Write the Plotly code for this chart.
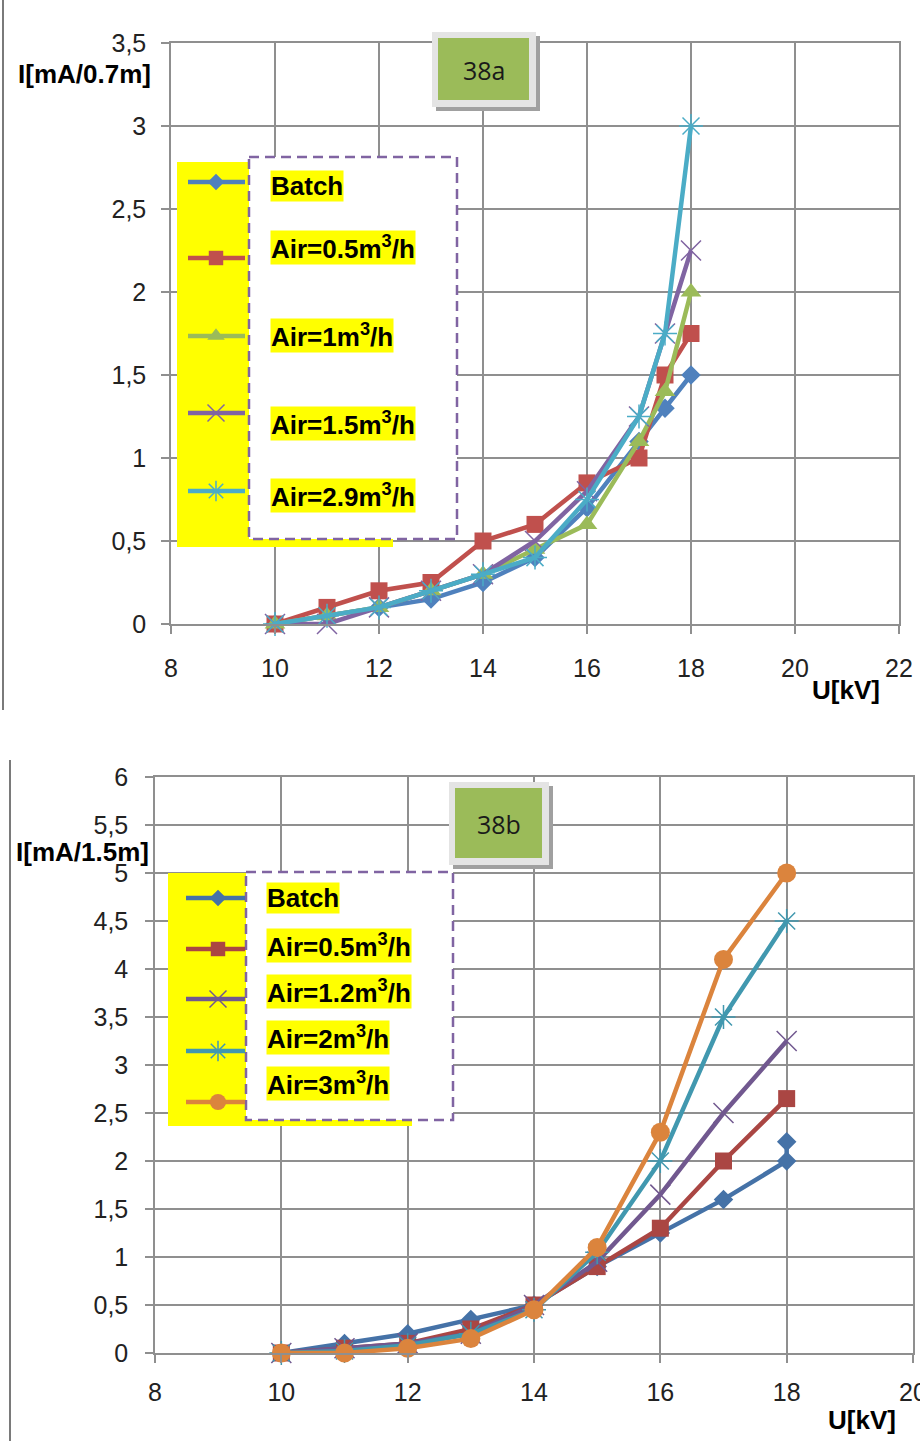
import plotly.graph_objects as go

W, H = 920, 1441

# ---------------- data: figure 38a ----------------
u_a = [10, 11, 12, 13, 14, 15, 16, 17, 17.5, 18]
batch_a = [0, 0.05, 0.1, 0.15, 0.25, 0.4, 0.7, 1.1, 1.3, 1.5]
air05_a = [0, 0.1, 0.2, 0.25, 0.5, 0.6, 0.85, 1.0, 1.5, 1.75]
air1_a = [0, 0.05, 0.1, 0.2, 0.3, 0.45, 0.6, 1.1, 1.4, 2.0]
air15_a = [0, 0, 0.1, 0.2, 0.3, 0.5, 0.8, 1.25, 1.75, 2.25]
air29_a = [0, 0.05, 0.1, 0.2, 0.3, 0.4, 0.75, 1.25, 1.75, 3.0]
names_a = ["Batch", "Air=0.5m<sup>3</sup>/h", "Air=1m<sup>3</sup>/h",
           "Air=1.5m<sup>3</sup>/h", "Air=2.9m<sup>3</sup>/h"]

# ---------------- data: figure 38b ----------------
u_b = [10, 11, 12, 13, 14, 15, 16, 17, 18]
u_b_batch = [10, 11, 12, 13, 14, 15, 16, 17, 18, 18]
batch_b = [0, 0.1, 0.2, 0.35, 0.5, 0.9, 1.25, 1.6, 2.0, 2.2]
air05_b = [0, 0.05, 0.1, 0.25, 0.5, 0.9, 1.3, 2.0, 2.65]
air12_b = [0, 0.05, 0.1, 0.2, 0.5, 0.95, 1.65, 2.5, 3.25]
air2_b = [0, 0.02, 0.08, 0.2, 0.45, 1.05, 2.0, 3.5, 4.5]
air3_b = [0, 0, 0.05, 0.15, 0.45, 1.1, 2.3, 4.1, 5.0]
names_b = ["Batch", "Air=0.5m<sup>3</sup>/h", "Air=1.2m<sup>3</sup>/h",
           "Air=2m<sup>3</sup>/h", "Air=3m<sup>3</sup>/h"]

x_ticks_a = [8, 10, 12, 14, 16, 18, 20, 22]
y_ticks_a = [0, 0.5, 1, 1.5, 2, 2.5, 3, 3.5]
y_text_a = ["0", "0,5", "1", "1,5", "2", "2,5", "3", "3,5"]
x_ticks_b = [8, 10, 12, 14, 16, 18, 20]
y_ticks_b = [0, 0.5, 1, 1.5, 2, 2.5, 3, 3.5, 4, 4.5, 5, 5.5, 6]
y_text_b = ["0", "0,5", "1", "1,5", "2", "2,5", "3", "3,5", "4", "4,5", "5", "5,5", "6"]

# ---------------- styles ----------------
FONT = "Liberation Sans, Arial, sans-serif"
GRID = "#8f8f8f"
TICKC = "#222222"
YEL = "#FFFF00"
DASHC = "#8064A2"

style_a = [
    dict(color="#4F81BD", symbol="diamond", size=15, open=False),
    dict(color="#C0504D", symbol="square", size=17, open=False),
    dict(color="#9BBB59", symbol="triangle-up", size=18, open=False),
    dict(color="#8064A2", symbol="x-thin-open", size=20, open=True),
    dict(color="#4BACC6", symbol="asterisk-open", size=20, open=True),
]
style_b = [
    dict(color="#4572A7", symbol="diamond", size=15, open=False),
    dict(color="#AA4643", symbol="square", size=17, open=False),
    dict(color="#71588F", symbol="x-thin-open", size=20, open=True),
    dict(color="#4198AF", symbol="asterisk-open", size=20, open=True),
    dict(color="#DB843D", symbol="circle", size=19, open=False),
]


def px(x):
    return x / W


def py(y):
    return 1 - y / H


def marker_of(s, opacity=1, scale=1.0):
    m = dict(symbol=s["symbol"], size=s["size"] * scale, color=s["color"], opacity=opacity)
    if s["open"]:
        m["line"] = dict(width=1.5, color=s["color"])
    else:
        m["line"] = dict(width=0)
    return m


fig = go.Figure()

# main series, figure 38a
for xs, ys, nm, s in zip([u_a] * 5, [batch_a, air05_a, air1_a, air15_a, air29_a], names_a, style_a):
    fig.add_trace(go.Scatter(x=xs, y=ys, name=nm, mode="lines+markers",
                             line=dict(color=s["color"], width=4.5),
                             marker=marker_of(s), xaxis="x", yaxis="y",
                             showlegend=False, cliponaxis=False))

# main series, figure 38b
for xs, ys, nm, s in zip([u_b_batch, u_b, u_b, u_b, u_b],
                         [batch_b, air05_b, air12_b, air2_b, air3_b], names_b, style_b):
    fig.add_trace(go.Scatter(x=xs, y=ys, name=nm, mode="lines+markers",
                             line=dict(color=s["color"], width=4.5),
                             marker=marker_of(s), xaxis="x2", yaxis="y2",
                             showlegend=False, cliponaxis=False))


# ---------------- custom legends on a pixel overlay axis ----------------
def rect_trace(x0, y0, x1, y1, fill, line=None, dash=None):
    return go.Scatter(x=[x0, x1, x1, x0, x0], y=[y0, y0, y1, y1, y0],
                      mode="lines", fill="toself" if fill else None,
                      fillcolor=fill,
                      line=dict(color=line if line else "rgba(0,0,0,0)",
                                width=2.5 if line else 0, dash=dash),
                      xaxis="x3", yaxis="y3", hoverinfo="skip", showlegend=False)


def legend(yel_col, yel_strip, box, sample_x, sample_ys, text_x, text_ys, names, styles):
    fig.add_trace(rect_trace(*yel_col, YEL))
    fig.add_trace(rect_trace(*yel_strip, YEL))
    fig.add_trace(rect_trace(*box, "white"))
    fig.add_trace(rect_trace(*box, None, line=DASHC, dash="10px,6px"))
    for yy, s in zip(sample_ys, styles):
        fig.add_trace(go.Scatter(x=list(sample_x), y=[yy, yy, yy], mode="lines+markers",
                                 line=dict(color=s["color"], width=4.5),
                                 marker=marker_of(s, opacity=[0, 1, 0], scale=0.85),
                                 xaxis="x3", yaxis="y3", hoverinfo="skip",
                                 showlegend=False, cliponaxis=False))
    for yy, nm in zip(text_ys, names):
        fig.add_annotation(x=px(text_x), y=py(yy), xref="paper", yref="paper",
                           text="<b>" + nm + "</b>", showarrow=False,
                           xanchor="left", yanchor="middle", bgcolor=YEL, borderpad=0,
                           font=dict(family=FONT, size=26, color="black"))


legend((177, 162, 249, 547), (177, 538, 393, 547), (249, 157, 457, 539),
       (188, 216, 245), [182, 258, 336, 413, 491], 270,
       [186, 247, 335, 423, 495], names_a, style_a)
legend((168, 873, 246, 1126), (168, 1117, 412, 1126), (246, 872, 453, 1120),
       (186, 218, 245), [898, 949, 999, 1051, 1102], 266,
       [898, 945, 991, 1037, 1083], names_b, style_b)

# ---------------- axes ----------------
common_x = dict(showgrid=True, gridcolor=GRID, gridwidth=1.5, zeroline=False,
                showline=True, linecolor=GRID, linewidth=1.5, mirror=True,
                ticks="outside", ticklen=8, tickcolor=GRID, tickwidth=1.5,
                automargin=False, ticklabeloverflow="allow",
                tickfont=dict(family=FONT, size=25, color=TICKC))
common_y = dict(common_x)

fig.update_layout(
    width=W, height=H, margin=dict(l=0, r=0, t=0, b=0, autoexpand=False),
    paper_bgcolor="white", plot_bgcolor="rgba(0,0,0,0)",
    showlegend=False,
    xaxis=dict(common_x, domain=[px(171), px(899)], range=[8, 22], tickvals=x_ticks_a,
               anchor="y", ticklabelstandoff=13),
    yaxis=dict(common_y, domain=[py(624), py(43)], range=[0, 3.5], tickvals=y_ticks_a,
               ticktext=y_text_a, anchor="x", ticklabelstandoff=10),
    xaxis2=dict(common_x, domain=[px(155), px(913)], range=[8, 20], tickvals=x_ticks_b,
                anchor="y2", ticklabelstandoff=8),
    yaxis2=dict(common_y, domain=[py(1353), py(777)], range=[0, 6], tickvals=y_ticks_b,
                ticktext=y_text_b, anchor="x2", ticklabelstandoff=12),
    xaxis3=dict(domain=[0, 1], range=[0, W], visible=False, anchor="y3",
                fixedrange=True, automargin=False),
    yaxis3=dict(domain=[0, 1], range=[H, 0], visible=False, anchor="x3",
                fixedrange=True, automargin=False),
)

# axis titles
for x, y, t in [(84, 74, "I[mA/0.7m]"), (846, 690, "U[kV]"),
                (82, 852, "I[mA/1.5m]"), (862, 1420, "U[kV]")]:
    fig.add_annotation(x=px(x), y=py(y), xref="paper", yref="paper", text="<b>" + t + "</b>",
                       showarrow=False, xanchor="center", yanchor="middle",
                       font=dict(family=FONT, size=26, color="black"))

# figure label boxes (38a / 38b)
for (x0, y0, x1, y1), lab in [((432, 32, 536, 107), "38a"), ((449, 782, 549, 865), "38b")]:
    fig.add_shape(type="rect", xref="paper", yref="paper",
                  x0=px(x0 + 4), x1=px(x1 + 4), y0=py(y1 + 4), y1=py(y0 + 4),
                  fillcolor="#a0a0a0", line=dict(width=0), layer="above")
    fig.add_shape(type="rect", xref="paper", yref="paper",
                  x0=px(x0), x1=px(x1), y0=py(y1), y1=py(y0),
                  fillcolor="#e4e4e4", line=dict(width=0), layer="above")
    fig.add_shape(type="rect", xref="paper", yref="paper",
                  x0=px(x0 + 6), x1=px(x1 - 7), y0=py(y1 - 7), y1=py(y0 + 6),
                  fillcolor="#9BBB59", line=dict(width=0), layer="above")
    fig.add_annotation(x=px((x0 + x1) / 2), y=py((y0 + y1) / 2), xref="paper", yref="paper",
                       text=lab, showarrow=False, xanchor="center", yanchor="middle",
                       font=dict(family="Open Sans, sans-serif", size=25, color="#1a1a1a"))

# left image borders
fig.add_shape(type="line", xref="paper", yref="paper", x0=px(3), x1=px(3), y0=py(0), y1=py(710),
              line=dict(color="#7a7a7a", width=2), layer="above")
fig.add_shape(type="line", xref="paper", yref="paper", x0=px(10), x1=px(10), y0=py(760), y1=py(1441),
              line=dict(color="#7a7a7a", width=2), layer="above")

fig.write_html("out.html",
               post_script="document.body.style.margin='0';document.body.style.overflow='hidden';")
